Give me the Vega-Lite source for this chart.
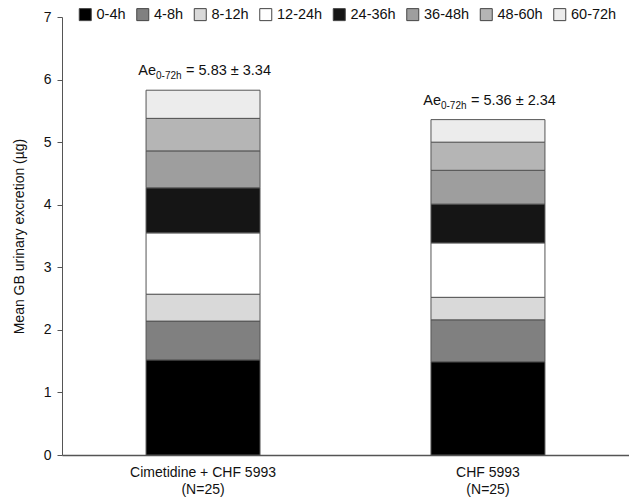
{
  "$schema": "https://vega.github.io/schema/vega-lite/v6.json",
  "width": 567,
  "height": 438,
  "autosize": {"type": "none"},
  "padding": {"left": 62, "top": 17, "right": 0, "bottom": 42},
  "background": "white",
  "config": {
    "view": {"stroke": null},
    "font": "Liberation Sans",
    "axis": {"labelFont": "Liberation Sans", "titleFont": "Liberation Sans"}
  },
  "datasets": {
    "bars": [
      {"group": "Cimetidine + CHF 5993", "interval": "0-4h", "k": 1, "value": 1.52},
      {"group": "Cimetidine + CHF 5993", "interval": "4-8h", "k": 2, "value": 0.62},
      {"group": "Cimetidine + CHF 5993", "interval": "8-12h", "k": 3, "value": 0.43},
      {"group": "Cimetidine + CHF 5993", "interval": "12-24h", "k": 4, "value": 0.98},
      {"group": "Cimetidine + CHF 5993", "interval": "24-36h", "k": 5, "value": 0.72},
      {"group": "Cimetidine + CHF 5993", "interval": "36-48h", "k": 6, "value": 0.59},
      {"group": "Cimetidine + CHF 5993", "interval": "48-60h", "k": 7, "value": 0.52},
      {"group": "Cimetidine + CHF 5993", "interval": "60-72h", "k": 8, "value": 0.45},
      {"group": "CHF 5993", "interval": "0-4h", "k": 1, "value": 1.49},
      {"group": "CHF 5993", "interval": "4-8h", "k": 2, "value": 0.67},
      {"group": "CHF 5993", "interval": "8-12h", "k": 3, "value": 0.36},
      {"group": "CHF 5993", "interval": "12-24h", "k": 4, "value": 0.87},
      {"group": "CHF 5993", "interval": "24-36h", "k": 5, "value": 0.62},
      {"group": "CHF 5993", "interval": "36-48h", "k": 6, "value": 0.54},
      {"group": "CHF 5993", "interval": "48-60h", "k": 7, "value": 0.45},
      {"group": "CHF 5993", "interval": "60-72h", "k": 8, "value": 0.36}
    ],
    "notes": [
      {"group": "Cimetidine + CHF 5993", "total": 5.83, "sub": "0-72h", "rest": "= 5.83 ± 3.34"},
      {"group": "CHF 5993", "total": 5.36, "sub": "0-72h", "rest": "= 5.36 ± 2.34"}
    ]
  },
  "layer": [
    {
      "data": {"name": "bars"},
      "mark": {"type": "bar", "stroke": "#555555", "strokeWidth": 1},
      "encoding": {
        "x": {
          "field": "group", "type": "nominal", "sort": ["Cimetidine + CHF 5993", "CHF 5993"],
          "scale": {"paddingInner": 0.6, "paddingOuter": 0.295},
          "axis": {
            "title": null, "labelAngle": 0, "ticks": false, "labelPadding": 10,
            "labelFontSize": 14, "labelColor": "#111", "domainColor": "#555", "domainWidth": 1.5,
            "labelExpr": "[datum.label, '(N=25)']", "labelLineHeight": 17
          }
        },
        "y": {
          "field": "value", "type": "quantitative", "aggregate": "sum", "stack": "zero",
          "scale": {"domain": [0, 7]},
          "axis": {
            "title": "Mean GB urinary excretion (µg)", "titleFontSize": 14, "titleFontWeight": "normal",
            "titleColor": "#111", "titlePadding": 17, "values": [0, 1, 2, 3, 4, 5, 6, 7], "format": "d", "grid": false,
            "tickSize": 5, "tickColor": "#555", "domainColor": "#555", "labelFontSize": 14, "labelColor": "#111", "labelPadding": 6
          }
        },
        "order": {"field": "k", "type": "quantitative", "sort": "ascending"},
        "color": {
          "field": "interval", "type": "nominal",
          "scale": {
            "domain": ["0-4h", "4-8h", "8-12h", "12-24h", "24-36h", "36-48h", "48-60h", "60-72h"],
            "range": ["#000000", "#808080", "#d9d9d9", "#ffffff", "#151515", "#9e9e9e", "#b5b5b5", "#ececec"]
          },
          "legend": {
            "title": null, "orient": "none", "direction": "horizontal", "columns": 8,
            "legendX": 16, "legendY": -10, "symbolType": "square", "symbolSize": 144,
            "symbolStrokeColor": "#444", "symbolStrokeWidth": 1, "labelFontSize": 14.5, "labelColor": "#111",
            "columnPadding": 8.5, "labelOffset": 4
          }
        }
      }
    },
    {
      "data": {"name": "notes"},
      "mark": {"type": "text", "align": "right", "baseline": "alphabetic", "dx": -47, "dy": -15, "fontSize": 14.5, "color": "#111"},
      "encoding": {
        "x": {"field": "group", "type": "nominal", "sort": ["Cimetidine + CHF 5993", "CHF 5993"]},
        "y": {"field": "total", "type": "quantitative"},
        "text": {"value": "Ae"}
      }
    },
    {
      "data": {"name": "notes"},
      "mark": {"type": "text", "align": "left", "baseline": "alphabetic", "dx": -47, "dy": -11, "fontSize": 10, "color": "#111"},
      "encoding": {
        "x": {"field": "group", "type": "nominal", "sort": ["Cimetidine + CHF 5993", "CHF 5993"]},
        "y": {"field": "total", "type": "quantitative"},
        "text": {"field": "sub"}
      }
    },
    {
      "data": {"name": "notes"},
      "mark": {"type": "text", "align": "left", "baseline": "alphabetic", "dx": -17, "dy": -15, "fontSize": 14.5, "color": "#111"},
      "encoding": {
        "x": {"field": "group", "type": "nominal", "sort": ["Cimetidine + CHF 5993", "CHF 5993"]},
        "y": {"field": "total", "type": "quantitative"},
        "text": {"field": "rest"}
      }
    }
  ]
}
